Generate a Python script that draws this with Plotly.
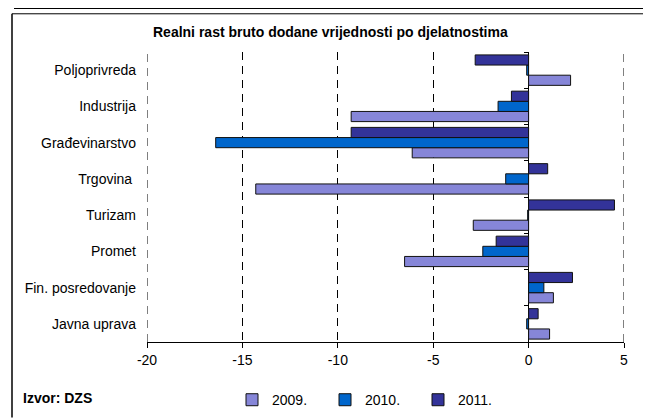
import plotly.graph_objects as go

categories = ["Poljoprivreda", "Industrija", "Građevinarstvo", "Trgovina\u00a0",
              "Turizam", "Promet", "Fin. posredovanje", "Javna uprava"]
years = ["2009.", "2010.", "2011."]
v2009 = [2.2, -9.3, -6.1, -14.3, -2.9, -6.5, 1.3, 1.1]
v2010 = [-0.1, -1.6, -16.4, -1.2, -0.05, -2.4, 0.8, -0.1]
v2011 = [-2.8, -0.9, -9.3, 1.0, 4.5, -1.7, 2.3, 0.5]
x_ticks = [-20, -15, -10, -5, 0, 5]
x_tick_labels = ["-20", "-15", "-10", "-5", "0", "5"]
title = "Realni rast bruto dodane vrijednosti po djelatnostima"
source = "Izvor: DZS"

colors = ["#8686d8", "#0066CC", "#333399"]
series = [v2009, v2010, v2011]

# page body has an 8px margin; compensate so the window picture lines up
OFF = 8
W, H = 651, 420
L_WIN, T_WIN, PW, PH = 147, 52, 477, 296
L, T = L_WIN - OFF, T_WIN - OFF
R, B = W - L - PW, H - T - PH


def px(x):
    return (x - L_WIN) / PW


def py(y):
    return (T_WIN + PH - y) / PH


FONT = "Liberation Sans, Arial, sans-serif"

fig = go.Figure()
for name, vals, col in zip(years, series, colors):
    fig.add_trace(go.Bar(
        y=categories, x=vals, name=name, orientation="h",
        marker=dict(color=col, line=dict(color="#111111", width=1)),
    ))

# second category axis crossing at x = 0, showing only boundary ticks
fig.add_trace(go.Bar(y=categories, x=[0] * len(categories), yaxis="y2", orientation="h",
                     marker=dict(opacity=0), showlegend=False, hoverinfo="skip"))

shapes = [
    dict(type="line", xref="paper", yref="paper", x0=px(12), x1=px(643), y0=py(13), y1=py(13),
         line=dict(color="black", width=1)),
    dict(type="line", xref="paper", yref="paper", x0=px(12), x1=px(12), y0=py(13), y1=py(425),
         line=dict(color="black", width=1.5)),
    dict(type="rect", xref="paper", yref="paper", x0=px(643), x1=px(647.5), y0=py(15), y1=py(425),
         fillcolor="black", line=dict(width=0)),
    dict(type="rect", xref="paper", yref="paper", x0=px(14), x1=px(647.5), y0=py(4), y1=py(8),
         fillcolor="black", line=dict(width=0)),
    dict(type="line", xref="paper", yref="paper", x0=px(14), x1=px(14), y0=py(-10), y1=py(5),
         line=dict(color="black", width=1)),
]
# dashed grid lines at the two range edges (plotly hides grid lines there)
for v in (x_ticks[0], x_ticks[-1]):
    shapes.append(dict(type="line", xref="x", yref="paper", x0=v, x1=v, y0=0, y1=1,
                       line=dict(color="black", width=1, dash="8px,6px"), layer="below"))

fig.update_layout(
    width=W, height=H,
    margin=dict(l=L, r=R, t=T, b=B),
    paper_bgcolor="white", plot_bgcolor="white",
    font=dict(family=FONT, size=14, color="black"),
    barmode="group", bargap=0.16, bargroupgap=0,
    showlegend=True,
    legend=dict(orientation="h", x=px(232), xanchor="left", y=py(391), yanchor="top",
                font=dict(size=14, family=FONT), entrywidth=48, entrywidthmode="pixels",
                traceorder="normal", bgcolor="rgba(0,0,0,0)"),
    xaxis=dict(range=[x_ticks[0], x_ticks[-1]], tickvals=x_ticks, ticktext=x_tick_labels,
               ticks="outside", ticklen=5, tickcolor="black",
               showline=True, linecolor="black", linewidth=1, mirror=False,
               showgrid=True, gridcolor="black", gridwidth=1, griddash="8px,6px",
               zeroline=True, zerolinecolor="black", zerolinewidth=1,
               tickfont=dict(size=14), fixedrange=True),
    yaxis=dict(type="category", categoryorder="array", categoryarray=categories[::-1],
               range=[-0.5, 7.5], showgrid=False, zeroline=False, showline=False,
               ticks="", ticklabelstandoff=10, tickfont=dict(size=14)),
    yaxis2=dict(type="category", categoryorder="array", categoryarray=categories[::-1],
                overlaying="y", anchor="free", position=px(528.7), side="left",
                range=[-0.5, 7.5], tickson="boundaries", ticks="outside",
                ticklen=5, tickwidth=1, tickcolor="black", showticklabels=False,
                showgrid=False, zeroline=False, showline=False),
    shapes=shapes,
    annotations=[
        dict(text="<b>" + title + "</b>", xref="paper", yref="paper", x=px(330), y=py(32),
             xanchor="center", yanchor="middle", showarrow=False, font=dict(size=14, family=FONT)),
        dict(text="<b>" + source + "</b>", xref="paper", yref="paper", x=px(21), y=py(405),
             xanchor="left", yanchor="middle", showarrow=False, font=dict(size=14, family=FONT)),
    ],
)

fig.write_html("out.html")
